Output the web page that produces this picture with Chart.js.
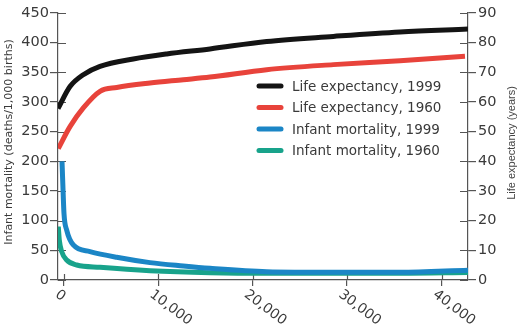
<!DOCTYPE html>
<html>
<head>
<meta charset="utf-8">
<script src="https://cdn.jsdelivr.net/npm/chart.js@4/dist/chart.umd.min.js"></script>
<style>
html, body { margin: 0; padding: 0; background: #fff; }
</style>
</head>
<body>
<canvas id="chart" width="520" height="326"></canvas>
<script>
// GDP per capita on x
const le1999Gdp = [-600, 670, 2078, 3846, 7370, 10906, 15489, 21491, 28540, 35600, 42800];
const le1999 = [57.8, 65.2, 69.2, 72.0, 74.5, 76.2, 77.9, 80.4, 82.1, 83.6, 84.6];

const le1960Gdp = [-570, 670, 2078, 3846, 5613, 9138, 12663, 15489, 21491, 28540, 35600, 42480];
const le1960 = [44.3, 51.7, 58.0, 63.6, 64.9, 66.4, 67.5, 68.4, 70.9, 72.6, 73.9, 75.4];

const im1999Gdp = [-177, -103, 35, 321, 1020, 2787, 5613, 9138, 12663, 15489, 21491, 28540, 35600, 42800];
const im1999 = [200, 168, 112, 84, 59, 47.8, 38.3, 29.3, 23.6, 19.7, 14, 13, 13, 16.5];

const im1960Gdp = [-568, -462, -208, 321, 1380, 3846, 9138, 15489, 21491, 28540, 35600, 42800];
const im1960 = [90, 67.5, 47.8, 33.7, 25.3, 21.4, 15.7, 12.3, 11.3, 11.3, 11.3, 12.5];

const seriesLabels = ['Life expectancy, 1999', 'Life expectancy, 1960', 'Infant mortality, 1999', 'Infant mortality, 1960'];
const seriesColors = ['#141414', '#e8433b', '#1b86c6', '#18a38b'];

const xTicks = [0, 10000, 20000, 30000, 40000];
const leftTicks = [0, 50, 100, 150, 200, 250, 300, 350, 400, 450];
const rightTicks = [0, 10, 20, 30, 40, 50, 60, 70, 80, 90];

const axisColor = '#555';
const textColor = '#3a3a3a';
const fontFamily = '"DejaVu Sans", Lato, sans-serif';

function pts(xs, ys) {
    return xs.map((x, i) => ({ x: x, y: ys[i] }));
}

function lineSet(idx, data, axis) {
    return {
        label: seriesLabels[idx],
        data: data,
        yAxisID: axis,
        borderColor: seriesColors[idx],
        backgroundColor: seriesColors[idx],
        borderWidth: 5,
        pointRadius: 0,
        cubicInterpolationMode: 'monotone',
        fill: false
    };
}

// inner tick halves, rotated x labels, axis titles and legend
const extras = {
    id: 'extras',
    beforeDatasetsDraw(chart) {
        const ctx = chart.ctx, a = chart.chartArea;
        const sx = chart.scales.x, yl = chart.scales.y, yr = chart.scales.y1;
        ctx.save();
        ctx.strokeStyle = axisColor;
        ctx.lineWidth = 1.2;
        ctx.beginPath();
        leftTicks.forEach(v => { const p = Math.round(yl.getPixelForValue(v)) + 0.5; ctx.moveTo(a.left, p); ctx.lineTo(a.left + 8, p); });
        rightTicks.forEach(v => { const p = Math.round(yr.getPixelForValue(v)) + 0.5; ctx.moveTo(a.right - 8, p); ctx.lineTo(a.right, p); });
        xTicks.forEach(v => { const p = Math.round(sx.getPixelForValue(v)) + 0.5; ctx.moveTo(p, a.bottom - 6); ctx.lineTo(p, a.bottom); });
        ctx.stroke();
        ctx.restore();
    },
    afterDraw(chart) {
        const ctx = chart.ctx, a = chart.chartArea;
        const sx = chart.scales.x;
        ctx.save();
        ctx.fillStyle = textColor;

        // x tick labels, slanted downwards
        ctx.font = '14px ' + fontFamily;
        ctx.textAlign = 'left';
        ctx.textBaseline = 'middle';
        xTicks.forEach(v => {
            const p = sx.getPixelForValue(v);
            ctx.save();
            ctx.translate(p - 7, a.bottom + 13);
            ctx.rotate(37 * Math.PI / 180);
            ctx.fillText(v.toLocaleString('en-US'), 0, 0);
            ctx.restore();
        });

        // axis titles, both reading bottom to top
        ctx.textAlign = 'center';
        ctx.save();
        ctx.translate(9, 142);
        ctx.rotate(-Math.PI / 2);
        ctx.font = '11px ' + fontFamily;
        ctx.fillText('Infant mortality (deaths/1,000 births)', 0, 0);
        ctx.restore();
        ctx.save();
        ctx.translate(512, 143);
        ctx.rotate(-Math.PI / 2);
        ctx.font = '11px "Liberation Sans", Arial, sans-serif';
        ctx.fillStyle = '#444';
        ctx.fillText('Life expectancy (years)', 0, 0);
        ctx.restore();

        // legend
        ctx.font = '13.5px ' + fontFamily;
        ctx.textAlign = 'left';
        ctx.lineCap = 'round';
        ctx.lineWidth = 5;
        chart.data.datasets.forEach((ds, i) => {
            const y = 86 + i * 21.5;
            ctx.strokeStyle = ds.borderColor;
            ctx.beginPath();
            ctx.moveTo(259, y);
            ctx.lineTo(281, y);
            ctx.stroke();
            ctx.fillStyle = textColor;
            ctx.fillText(ds.label, 292, y + 1);
        });
        ctx.restore();
    }
};

const ctx = document.getElementById('chart').getContext('2d');
new Chart(ctx, {
    type: 'line',
    data: {
        datasets: [
            lineSet(0, pts(le1999Gdp, le1999), 'y1'),
            lineSet(1, pts(le1960Gdp, le1960), 'y1'),
            lineSet(2, pts(im1999Gdp, im1999), 'y'),
            lineSet(3, pts(im1960Gdp, im1960), 'y')
        ]
    },
    options: {
        responsive: false,
        animation: false,
        devicePixelRatio: 1,
        layout: { padding: { top: 13, bottom: 0, left: 0, right: 0 } },
        plugins: {
            legend: { display: false },
            tooltip: { enabled: false }
        },
        scales: {
            x: {
                type: 'linear',
                min: -600,
                max: 42800,
                afterBuildTicks: (s) => { s.ticks = xTicks.map(v => ({ value: v })); },
                afterFit: (s) => { s.height = 46; },
                ticks: { display: false },
                grid: { drawOnChartArea: false, tickLength: 6, color: axisColor, lineWidth: 1.2 },
                border: { color: axisColor, width: 1.2 }
            },
            y: {
                position: 'left',
                min: 0,
                max: 450,
                afterBuildTicks: (s) => { s.ticks = leftTicks.map(v => ({ value: v })); },
                afterFit: (s) => { s.width = 58; },
                ticks: { color: textColor, padding: 1, font: { family: fontFamily, size: 14.5 } },
                grid: { drawOnChartArea: false, tickLength: 8, color: axisColor, lineWidth: 1.2 },
                border: { color: axisColor, width: 1.2 }
            },
            y1: {
                position: 'right',
                min: 0,
                max: 90,
                afterBuildTicks: (s) => { s.ticks = rightTicks.map(v => ({ value: v })); },
                afterFit: (s) => { s.width = 52; },
                ticks: { color: textColor, padding: 2, font: { family: fontFamily, size: 14.5 } },
                grid: { drawOnChartArea: false, tickLength: 8, color: axisColor, lineWidth: 1.2 },
                border: { color: axisColor, width: 1.2 }
            }
        }
    },
    plugins: [extras]
});
</script>
</body>
</html>
